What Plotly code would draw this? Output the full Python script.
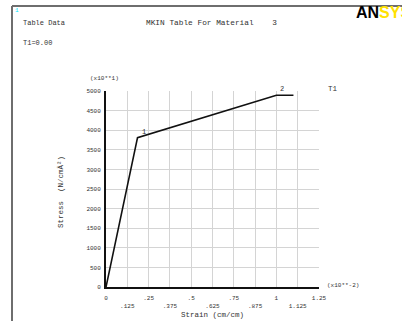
import plotly.graph_objects as go

# ---- data ----
strain = [0.0, 0.185, 1.0, 1.1]
stress = [0.0, 3810.0, 4890.0, 4890.0]
point_ids = ["", "1", "2", ""]

x_tickvals = [0, 0.125, 0.25, 0.375, 0.5, 0.625, 0.75, 0.875, 1.0, 1.125, 1.25]
x_ticklabels = ["0", ".125", ".25", ".375", ".5", ".625", ".75", ".875", "1", "1.125", "1.25"]
y_tickvals = [0, 500, 1000, 1500, 2000, 2500, 3000, 3500, 4000, 4500, 5000]
y_ticklabels = ["0", "500", "1000", "1500", "2000", "2500", "3000", "3500", "4000", "4500", "5000"]

W_FIG, H_FIG = 402, 321
L, R, T, B = 106, 319, 91, 287
PW, PH = R - L, B - T

def px(x):
    return (x - L) / PW

def py(y):
    return (B - y) / PH

FONT = "Liberation Mono"
TXT = "#333333"

# alternate tick labels onto two rows
x_text = [lab if i % 2 == 0 else "<br>" + lab for i, lab in enumerate(x_ticklabels)]

fig = go.Figure()
fig.add_trace(go.Scatter(x=strain, y=stress, mode="lines",
                         line=dict(color="#111111", width=1.6),
                         hoverinfo="skip", showlegend=False))

annotations = []
for xv, yv, lab in zip(strain, stress, point_ids):
    if lab:
        annotations.append(dict(x=xv, y=yv, xref="x", yref="y", text=lab,
                                showarrow=False, xanchor="left", yanchor="bottom",
                                xshift=2, yshift=0,
                                font=dict(family=FONT, size=7, color=TXT)))

def ann(xp, yp, text, size=7.5, xanchor="left", yanchor="middle", color=TXT, angle=0):
    annotations.append(dict(x=px(xp), y=py(yp), xref="paper", yref="paper", text=text,
                            showarrow=False, xanchor=xanchor, yanchor=yanchor,
                            textangle=angle,
                            font=dict(family=FONT, size=size, color=color)))

ann(21, 23, "Table Data", 7)
ann(211, 23, "MKIN Table For Material    3", 7.8, xanchor="center")
ann(21, 43, "T1=0.00", 7)
ann(88, 79, "(x10**1)", 6)
ann(325, 285, "(x10**-2)", 6)
ann(326, 89, "T1", 7.5)
ann(212, 315, "Strain (cm/cm)", 7.5, xanchor="center")
ann(61, 192, "Stress  (N/cmÂ²)", 7.5, xanchor="center", angle=-90)
ann(13, 10, "1", 6, color="#00e5ff")
annotations.append(dict(x=px(354), y=py(13), xref="paper", yref="paper",
                        text="<b>AN<span style='color:#ffe100'>SYS</span></b>",
                        showarrow=False, xanchor="left", yanchor="middle",
                        font=dict(family="Liberation Sans", size=16, color="#000000")))

shapes = [
    dict(type="line", xref="paper", yref="paper", x0=px(12), x1=px(402), y0=py(6), y1=py(6),
         line=dict(color="#6e6e6e", width=2)),
    dict(type="line", xref="paper", yref="paper", x0=px(12), x1=px(12), y0=py(6), y1=py(321),
         line=dict(color="#6e6e6e", width=2)),
]

fig.update_layout(
    width=W_FIG, height=H_FIG,
    margin=dict(l=L, r=W_FIG - R, t=T, b=H_FIG - B, pad=0),
    paper_bgcolor="white", plot_bgcolor="white",
    annotations=annotations, shapes=shapes,
    showlegend=False,
)
fig.update_xaxes(range=[0, 1.25], tickmode="array", tickvals=x_tickvals, ticktext=x_text,
                 showgrid=True, gridcolor="#d4d4d4", gridwidth=1,
                 showline=True, linecolor="#111111", linewidth=2,
                 zeroline=False, ticks="", ticklabelstandoff=4,
                 tickfont=dict(family=FONT, size=6, color=TXT), fixedrange=True)
fig.update_yaxes(range=[0, 5000], tickmode="array", tickvals=y_tickvals, ticktext=y_ticklabels,
                 showgrid=True, gridcolor="#d4d4d4", gridwidth=1,
                 showline=True, linecolor="#111111", linewidth=2,
                 zeroline=False, ticks="", ticklabelstandoff=2,
                 tickfont=dict(family=FONT, size=6, color=TXT), fixedrange=True)

fig.write_html("out.html", config={"displayModeBar": False},
               post_script="document.body.style.margin='0';document.body.style.overflow='hidden';")
